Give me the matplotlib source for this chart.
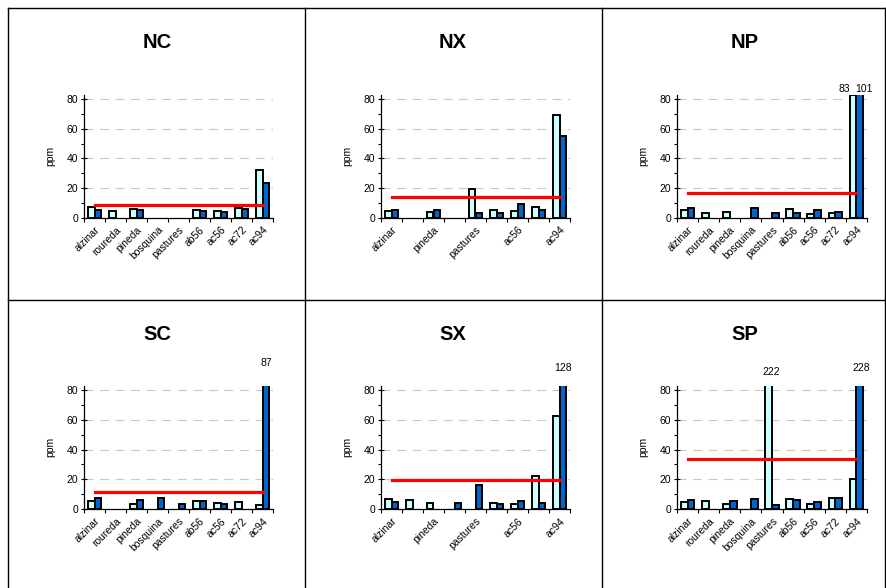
import numpy as np
import matplotlib
matplotlib.use('Agg')
import matplotlib.pyplot as plt
from matplotlib.lines import Line2D
from matplotlib.ticker import MultipleLocator, FixedLocator

plt.rcParams['font.family'] = ['Liberation Sans', 'DejaVu Sans']

nan = np.nan

# Data
categories = ['alzinar', 'roureda', 'pineda', 'bosquina', 'pastures',
              'ab56', 'ac56', 'ac72', 'ac94']
panels = ['NC', 'NX', 'NP', 'SC', 'SX', 'SP']

nc_light = [7.2, 4.3, 5.8, nan, nan, 5.0, 4.7, 6.3, 32.4]
nc_dark = [5.0, nan, 5.4, nan, nan, 4.5, 4.0, 6.1, 23.1]
nx_light = [4.3, nan, 4.0, nan, 19.5, 5.0, 4.5, 7.2, 69.2]
nx_dark = [5.0, nan, 5.0, nan, 3.5, 3.0, 9.2, 5.2, 55.0]
np_light = [5.0, 2.9, 4.0, nan, nan, 5.6, 2.5, 3.4, 83]
np_dark = [6.7, nan, nan, 6.7, 2.9, 2.9, 5.4, 3.8, 101]
sc_light = [5.6, nan, 3.1, nan, nan, 5.4, 4.3, 4.5, 2.9]
sc_dark = [7.6, nan, 6.0, 7.6, 3.6, 5.2, 3.6, nan, 87]
sx_light = [6.7, 6.3, 4.3, nan, nan, 3.8, 3.4, 22.2, 62.7]
sx_dark = [4.9, nan, nan, 3.8, 16.2, 3.6, 5.6, 3.8, 128]
sp_light = [4.9, 5.6, 3.1, nan, 222, 6.7, 3.1, 7.6, 20.4]
sp_dark = [6.3, nan, 5.4, 6.7, 2.5, 6.1, 4.7, 7.2, 228]

thresholds = [8.5, 14.2, 16.9, 11.2, 19.6, 33.7]

light_series = [nc_light, nx_light, np_light, sc_light, sx_light, sp_light]
dark_series = [nc_dark, nx_dark, np_dark, sc_dark, sx_dark, sp_dark]

# Layout (pixels)
W, H = 886, 588
fig = plt.figure(figsize=(W / 100, H / 100), dpi=100)

col_x = [(84, 273), (381, 570), (677, 867)]
row_y = [(217.7, 1.484), (509, 1.4875)]  # pixel of y=0, px per unit
ytop = 83
title_y = [43, 335]
title_x = [157, 453, 745]

# label y (data units) and x shift (px) for clipped bars
label_style = {
    'NP': [(87, -9), (87, 4)],
    'SC': [(98, 0)],
    'SX': [(95, 0)],
    'SP': [(92, 3), (95, 1)],
}

light_c = '#CCFFFF'
dark_c = '#0066CC'
bw = 0.32
fs = 7.5

for i, name in enumerate(panels):
    r, c = divmod(i, 3)
    x0, x1 = col_x[c]
    y0, s = row_y[r]
    y_top_px = y0 - ytop * s
    ax = fig.add_axes([x0 / W, 1 - y0 / H, (x1 - x0) / W, (y0 - y_top_px) / H])

    x = np.arange(len(categories))
    lv = np.array(light_series[i], dtype=float)
    dv = np.array(dark_series[i], dtype=float)
    ax.bar(x - bw / 2, lv, bw, color=light_c, edgecolor='black', linewidth=1.4, zorder=3)
    ax.bar(x + bw / 2, dv, bw, color=dark_c, edgecolor='black', linewidth=1.4, zorder=3)
    ax.plot([x[0], x[-1]], [thresholds[i]] * 2, color='#FF0000', lw=2.3, zorder=4)

    # labels for bars beyond the axis
    over = [(xx - bw / 2, v) for xx, v in zip(x, lv) if v >= ytop] + \
           [(xx + bw / 2, v) for xx, v in zip(x, dv) if v >= ytop]
    over.sort()
    for (bx, v), (ly, dx) in zip(over, label_style.get(name, [])):
        ax.annotate(f'{v:g}', (bx, ly), xytext=(dx * 0.72, 0), textcoords='offset points',
                    ha='center', va='center', fontsize=fs, annotation_clip=False)

    ax.yaxis.set_major_locator(FixedLocator([0, 20, 40, 60, 80]))
    ax.yaxis.set_minor_locator(MultipleLocator(10))
    ax.grid(axis='y', which='major', color='#C8C8C8', linestyle=(0, (8, 6)), lw=0.8, zorder=0)
    ax.tick_params(axis='y', which='major', direction='inout', length=5, width=0.8,
                   labelsize=fs, pad=1.5)
    ax.tick_params(axis='y', which='minor', direction='out', length=2.5, width=0.8)

    if name in ('NX', 'SX'):
        shown = list(range(0, len(categories), 2))
    else:
        shown = list(range(len(categories)))
    ax.set_xticks(shown)
    ax.set_xticklabels([categories[k] for k in shown], rotation=45, ha='right',
                       va='top', rotation_mode='anchor', fontsize=fs)
    ax.set_xticks(np.arange(len(categories) + 1) - 0.5, minor=True)
    ax.tick_params(axis='x', which='major', length=0, pad=5)
    ax.tick_params(axis='x', which='minor', direction='out', length=3, width=0.8)
    ax.set_xlim(-0.5, len(categories) - 0.5)
    ax.set_ylim(0, ytop)

    for sp in ('top', 'right'):
        ax.spines[sp].set_visible(False)
    for sp in ('left', 'bottom'):
        ax.spines[sp].set_linewidth(0.9)
    ax.set_ylabel('ppm', fontsize=fs, labelpad=8)

    fig.text(title_x[c] / W, 1 - title_y[r] / H, name, ha='center', va='center',
             fontsize=14.5, fontweight='bold')

# cell borders
for xp in (8, 305, 602, 885):
    fig.add_artist(Line2D([xp / W] * 2, [0, 1 - 8 / H], color='black', lw=1.0))
for yp in (8, 300):
    fig.add_artist(Line2D([8 / W, 885 / W], [1 - yp / H] * 2, color='black', lw=1.0))

fig.savefig('out.png', dpi=100)
